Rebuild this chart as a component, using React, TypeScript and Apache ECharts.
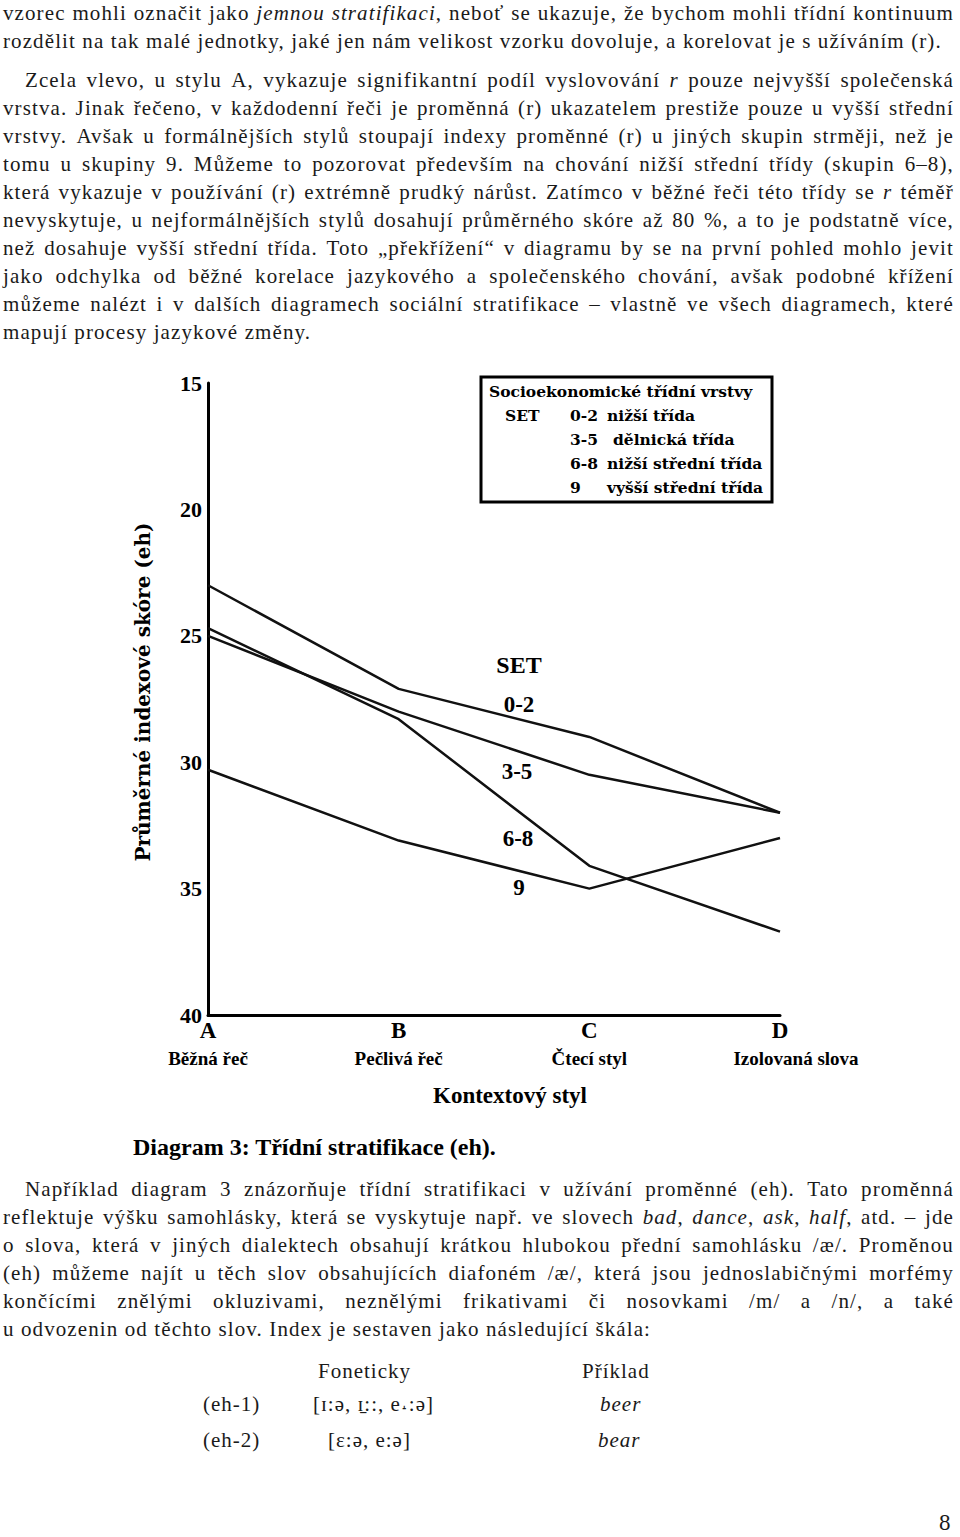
import React, { useEffect, useRef } from "react";
import * as echarts from "echarts";

// ---------- chart data ----------
const styles = ["A", "B", "C", "D"];
const styleNames = ["Běžná řeč", "Pečlivá řeč", "Čtecí styl", "Izolovaná slova"];
const groups = ["0-2", "3-5", "6-8", "9"];
const groupNames = ["nižší třída", "dělnická třída", "nižší střední třída", "vyšší střední třída"];
const set02 = [23.0, 27.1, 29.0, 32.0];
const set35 = [25.0, 28.0, 30.5, 32.0];
const set68 = [24.7, 28.3, 34.1, 36.7];
const set9 = [30.3, 33.1, 35.0, 33.0];
const seriesValues = [set02, set35, set68, set9];
const yMin = 15;
const yMax = 40;
const yStep = 5;

// ---------- page text ----------
type L = { t: string; b: number; indent?: number; j: boolean };
const bodyLines: L[] = [
  { t: "vzorec mohli označit jako _jemnou_ _stratifikaci_, neboť se ukazuje, že bychom mohli třídní kontinuum", b: 20, j: true },
  { t: "rozdělit na tak malé jednotky, jaké jen nám velikost vzorku dovoluje, a korelovat je s užíváním (r).", b: 48, j: false },
  { t: "Zcela vlevo, u stylu A, vykazuje signifikantní podíl vyslovování _r_ pouze nejvyšší společenská", b: 87, indent: 22, j: true },
  { t: "vrstva. Jinak řečeno, v každodenní řeči je proměnná (r) ukazatelem prestiže pouze u vyšší střední", b: 115, j: true },
  { t: "vrstvy. Avšak u formálnějších stylů stoupají indexy proměnné (r) u jiných skupin strměji, než je", b: 143, j: true },
  { t: "tomu u skupiny 9. Můžeme to pozorovat především na chování nižší střední třídy (skupin 6–8),", b: 171, j: true },
  { t: "která vykazuje v používání (r) extrémně prudký nárůst. Zatímco v běžné řeči této třídy se _r_ téměř", b: 199, j: true },
  { t: "nevyskytuje, u nejformálnějších stylů dosahují průměrného skóre až 80 %, a to je podstatně více,", b: 227, j: true },
  { t: "než dosahuje vyšší střední třída. Toto „překřížení“ v diagramu by se na první pohled mohlo jevit", b: 255, j: true },
  { t: "jako odchylka od běžné korelace jazykového a společenského chování, avšak podobné křížení", b: 283, j: true },
  { t: "můžeme nalézt i v dalších diagramech sociální stratifikace – vlastně ve všech diagramech, které", b: 311, j: true },
  { t: "mapují procesy jazykové změny.", b: 339, j: false },
  { t: "Například diagram 3 znázorňuje třídní stratifikaci v užívání proměnné (eh). Tato proměnná", b: 1196, indent: 22, j: true },
  { t: "reflektuje výšku samohlásky, která se vyskytuje např. ve slovech _bad_, _dance_, _ask_, _half_, atd. – jde", b: 1224, j: true },
  { t: "o slova, která v jiných dialektech obsahují krátkou hlubokou přední samohlásku /æ/. Proměnou", b: 1252, j: true },
  { t: "(eh) můžeme najít u těch slov obsahujících diafoném /æ/, která jsou jednoslabičnými morfémy", b: 1280, j: true },
  { t: "končícími znělými okluzivami, neznělými frikativami či nosovkami /m/ a /n/, a také", b: 1308, j: true },
  { t: "u odvozenin od těchto slov. Index je sestaven jako následující škála:", b: 1336, j: false },
];

type T = { t: string; x: number; b: number; i?: boolean; size?: number };
const tableTexts: T[] = [
  { t: "Foneticky", x: 318, b: 1378 },
  { t: "Příklad", x: 582, b: 1378 },
  { t: "(eh-1)", x: 203, b: 1411 },
  { t: "[ɪ:ə, ɪ̱::, e˔:ə]", x: 313, b: 1411 },
  { t: "beer", x: 600, b: 1411, i: true },
  { t: "(eh-2)", x: 203, b: 1447 },
  { t: "[ɛ:ə, e:ə]", x: 328, b: 1447 },
  { t: "bear", x: 598, b: 1447, i: true },
  { t: "8", x: 939, b: 1530, size: 23 },
];

const BODY_FONT = '"Liberation Serif", "Times New Roman", serif';
const CHART_FONT = "Liberation Serif";

function renderWord(w: string) {
  const parts = w.split("_");
  return parts.map((p, k) =>
    k % 2 === 1 ? (
      <i key={k}>{p}</i>
    ) : (
      <React.Fragment key={k}>{p}</React.Fragment>
    )
  );
}

function TextLine({ line }: { line: L }) {
  const words = line.t.split(" ");
  const left = 3 + (line.indent || 0);
  const base: React.CSSProperties = {
    position: "absolute",
    top: line.b - 21,
    left,
    fontFamily: BODY_FONT,
    fontSize: 21,
    lineHeight: "28px",
    letterSpacing: "1.1px",
    color: "#1a1a1a",
    whiteSpace: "nowrap",
  };
  if (line.j) {
    return (
      <div
        style={{
          ...base,
          width: 954 - left,
          display: "flex",
          justifyContent: "space-between",
          columnGap: 3,
        }}
      >
        {words.map((w, i) => (
          <span key={i}>{renderWord(w)}</span>
        ))}
      </div>
    );
  }
  return (
    <div style={base}>
      {words.map((w, i) => (
        <span key={i}>
          {renderWord(w)}
          {i < words.length - 1 ? " " : ""}
        </span>
      ))}
    </div>
  );
}

export default function App() {
  const ref = useRef<HTMLDivElement>(null);

  useEffect(() => {
    if (!ref.current) return;
    const chart = echarts.init(ref.current, undefined, { renderer: "svg" });

    const txt = (
      text: string,
      x: number,
      y: number,
      size: number,
      extra: any = {},
      family: string = CHART_FONT
    ) => ({
      type: "text",
      x,
      y,
      silent: true,
      ...extra,
      style: {
        text,
        fontFamily: family,
        fontWeight: "bold",
        fontSize: size,
        fill: "#000",
        align: extra.align || "center",
        verticalAlign: "middle",
      },
    });

    const legendFont = "DejaVu Serif";
    const legendRows = [415, 439, 463, 487];

    const graphic: any[] = [
      // y-axis title
      txt("Průměrné indexové skóre (eh)", 143, 692, 20, { rotation: Math.PI / 2 }, "DejaVu Serif"),
      // x-axis title
      txt("Kontextový styl", 510, 1095, 23),
      // caption
      txt("Diagram 3: Třídní stratifikace (eh).", 133, 1147, 24, { align: "left" }),
      // in-plot labels
      txt("SET", 519, 665, 24),
      txt(groups[0], 519, 704, 23),
      txt(groups[1], 517, 771, 23),
      txt(groups[2], 518, 838, 23),
      txt(groups[3], 519, 887, 23),
      // legend box
      {
        type: "rect",
        silent: true,
        shape: { x: 481, y: 377, width: 291, height: 125 },
        style: { fill: "#fff", stroke: "#000", lineWidth: 3 },
      },
      txt("Socioekonomické třídní vrstvy", 489, 391, 15.5, { align: "left" }, legendFont),
      txt("SET", 505, legendRows[0], 15.5, { align: "left" }, legendFont),
    ];
    groups.forEach((g, i) => {
      graphic.push(txt(g, 570, legendRows[i], 15.5, { align: "left" }, legendFont));
      graphic.push(
        txt(groupNames[i], i === 1 ? 613 : 607, legendRows[i], 15.5, { align: "left" }, legendFont)
      );
    });

    chart.setOption({
      animation: false,
      backgroundColor: "transparent",
      grid: { left: 208, right: 180, top: 383, bottom: 522, containLabel: false },
      xAxis: {
        type: "category",
        data: styles,
        boundaryGap: false,
        axisLine: { show: true, onZero: false, lineStyle: { color: "#000", width: 3 } },
        axisTick: { show: false },
        splitLine: { show: false },
        axisLabel: {
          margin: 3,
          interval: 0,
          color: "#000",
          fontFamily: CHART_FONT,
          fontWeight: "bold",
          formatter: (v: string, i: number) =>
            `{l|${v}}\n{${i === 3 ? "s2" : "s"}|${styleNames[i]}}`,
          rich: {
            l: { fontSize: 23, fontWeight: "bold", fontFamily: CHART_FONT, lineHeight: 24, color: "#000" },
            s: { fontSize: 19, fontWeight: "bold", fontFamily: CHART_FONT, lineHeight: 32, color: "#000" },
            s2: {
              fontSize: 19,
              fontWeight: "bold",
              fontFamily: CHART_FONT,
              lineHeight: 32,
              color: "#000",
              padding: [0, 0, 0, 32],
            },
          },
        },
      },
      yAxis: {
        type: "value",
        inverse: true,
        min: yMin,
        max: yMax,
        interval: yStep,
        axisLine: { show: true, lineStyle: { color: "#000", width: 3 } },
        axisTick: { show: false },
        splitLine: { show: false },
        axisLabel: {
          margin: 6,
          color: "#000",
          fontFamily: CHART_FONT,
          fontWeight: "bold",
          fontSize: 22,
        },
      },
      series: groups.map((g, i) => ({
        name: g,
        type: "line",
        data: seriesValues[i],
        symbol: "none",
        lineStyle: { color: "#111", width: 2.5 },
        silent: true,
      })),
      graphic,
    });

    return () => chart.dispose();
  }, []);

  return (
    <div style={{ position: "absolute", left: 0, top: 0, width: 960, height: 1537, background: "#fff" }}>
      <div ref={ref} style={{ position: "absolute", left: 0, top: 0, width: 960, height: 1537 }} />
      {bodyLines.map((l, i) => (
        <TextLine key={i} line={l} />
      ))}
      {tableTexts.map((t, i) => (
        <div
          key={"t" + i}
          style={{
            position: "absolute",
            left: t.x,
            top: t.b - 21,
            fontFamily: BODY_FONT,
            fontSize: t.size || 21,
            lineHeight: "28px",
            letterSpacing: "1px",
            fontStyle: t.i ? "italic" : "normal",
            color: "#1a1a1a",
            whiteSpace: "nowrap",
          }}
        >
          {t.t}
        </div>
      ))}
    </div>
  );
}
